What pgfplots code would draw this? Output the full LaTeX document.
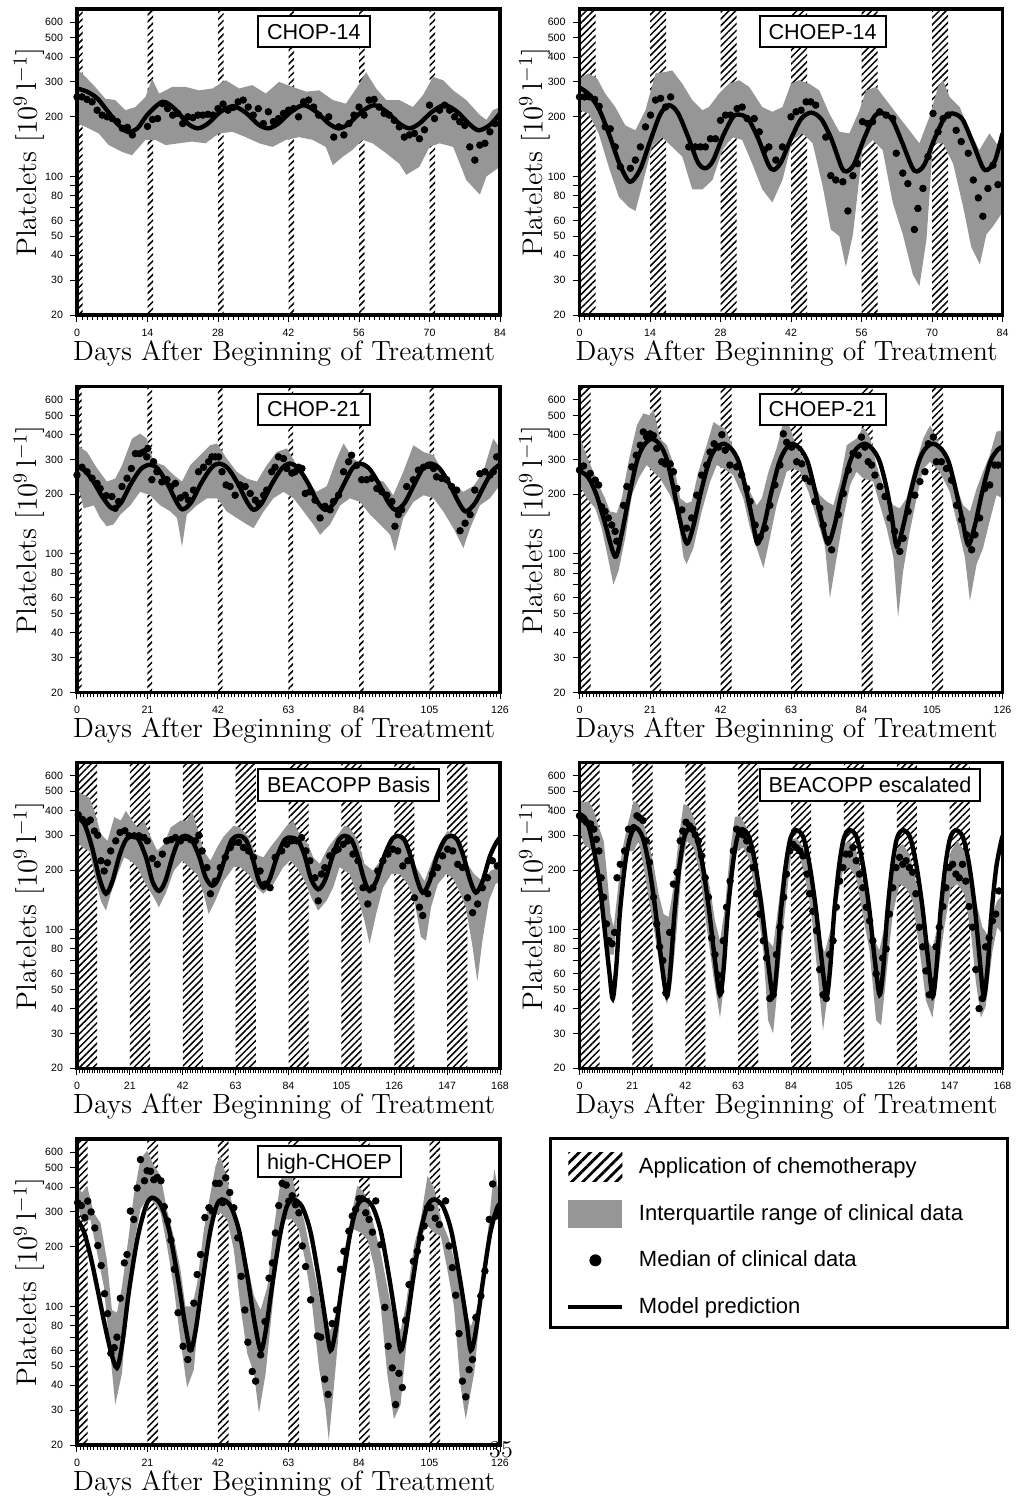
\documentclass[border=0pt]{standalone}
\usepackage{fontspec}
\usepackage{pgfplots}
\pgfplotsset{compat=1.18}
\usetikzlibrary{patterns.meta}
\newfontfamily\hv{Liberation Sans}
\definecolor{band}{RGB}{150,150,150}
\tikzset{
  chemo/.style={draw=none, pattern={Lines[angle=45,distance=2.4pt,line width=0.75pt]}, pattern color=black},
  titlebox/.style={draw=black, line width=1pt, fill=white, anchor=north west,
    font=\hv\fontsize{10.8}{12}\selectfont, inner xsep=4.5pt, inner ysep=4pt, text height=7.6pt, text depth=0pt},
}
\newcommand{\chemo}[2]{\addplot[chemo, forget plot] coordinates {(#1,20) (#2,20) (#2,700) (#1,700)} -- cycle;}
\pgfplotsset{
 panel/.style={
   scale only axis, width=211.5pt, height=153pt,
   ymin=20, ymax=700, xmin=0,
   ytick={20,30,40,50,60,70,80,90,100,200,300,400,500,600},
   yticklabels={20,30,40,50,60,,80,,100,200,300,400,500,600},
   yminorticks=false,
   axis on top,
   axis line style={line width=1.6pt},
   tick align=outside, xtick pos=left, ytick pos=left,
   major tick length=3.5pt, minor tick length=2.5pt,
   major tick style={black, line width=0.5pt},
   minor tick style={black, line width=0.4pt},
   tick label style={font=\hv\fontsize{5.3}{6}\selectfont},
   /pgf/number format/assume math mode=true,
   xlabel={Days After Beginning of Treatment},
   xlabel style={font=\fontsize{13.9}{15}\selectfont, at={(axis description cs:0.49,0)}, anchor=base, yshift=-22.5pt},
   ylabel={Platelets $[10^9\,\mathrm{l}^{-1}]$},
   ylabel style={font=\fontsize{14.2}{15}\selectfont, anchor=base},
   anchor=south west,
 },
 leftcol/.style={ylabel style={at={([xshift=-20pt,yshift=4.75pt]axis description cs:0,0.5)}}},
 rightcol/.style={ylabel style={at={([xshift=-18.5pt,yshift=4.75pt]axis description cs:0,0.5)}}},
 iqr/.style={fill=band, draw=none, forget plot},
 med/.style={only marks, mark=*, mark size=1.65pt, black, forget plot},
 modelcurve/.style={black, line width=2.2pt, smooth, forget plot},
}
\begin{document}
\begin{tikzpicture}
\path[use as bounding box] (0,0) rectangle (508.5pt,-750pt);

% ---------------- CHOP-14
\begin{semilogyaxis}[panel, leftcol, xmax=84, xtick={0,14,28,42,56,70,84}, minor x tick num=13, at={(38.5pt,-157.5pt)}]
\chemo{0}{1.1}\chemo{14}{15.1}\chemo{28}{29.1}\chemo{42}{43.1}\chemo{56}{57.1}\chemo{70}{71.1}
\addplot[iqr] coordinates {(0,350)(1.7,318)(3.6,283)(5.6,247)(7.6,243)(9.6,216)(11.6,224)(13.6,252)(14.9,312)(16.3,262)(17.6,272)(18.9,283)(21.6,283)(24.2,272)(26.9,278)(29.5,306)(32.2,278)(34.8,289)(37.5,262)(40.1,300)(42.8,283)(45.5,268)(48.1,272)(50.8,243)(53.4,233)(56.1,294)(57.4,336)(59.4,278)(61.4,243)(64,243)(66.7,224)(68.7,257)(70.7,318)(72.7,306)(74.7,272)(77.3,243)(80,204)(81.3,193)(82.6,216)(84,224)
(84,112)(81.3,100)(80,81)(77.3,96)(74.7,141)(72,147)(70,141)(68,112)(65.4,102)(64,116)(61.4,131)(58.7,147)(56.7,153)(54.7,136)(52.8,126)(50.8,114)(49.4,141)(46.8,153)(44.1,158)(41.5,153)(38.8,141)(36.2,147)(33.5,158)(30.9,168)(28.2,165)(25.5,147)(22.9,150)(20.2,147)(17.6,144)(15.6,153)(13.6,153)(10.9,128)(9,133)(6.3,144)(4.3,165)(1.7,178)(0,185)} -- cycle;
\addplot[med] coordinates {(0,252)(1,252)(2,245)(3,238)(4,216)(5,204)(6,200)(7,196)(8,189)(9,175)(10,177)(11,162)(14,179)(15,194)(16,196)(17,233)(18,220)(19,204)(20,208)(21,185)(22,200)(23,198)(24,204)(25,204)(26,206)(27,204)(28,220)(29,232)(30,216)(31,223)(32,238)(33,243)(34,224)(35,204)(36,220)(37,185)(38,212)(39,189)(40,196)(41,208)(42,216)(43,220)(44,200)(45,238)(46,243)(47,224)(48,204)(50,200)(51,158)(52,178)(53,162)(54,185)(55,204)(56,224)(57,204)(58,243)(59,245)(60,224)(61,208)(62,204)(63,192)(64,178)(65,158)(66,162)(67,165)(68,155)(69,172)(70,229)(71,196)(72,216)(73,229)(74,216)(75,200)(76,189)(77,181)(78,141)(79,121)(80,144)(81,147)(82,168)(83,185)};
\addplot[modelcurve] coordinates {(0,278)(2,268)(4,248)(6,215)(8,185)(10,168)(12,175)(14,205)(17,238)(19.5,218)(22,185)(24,175)(26,185)(28.5,212)(31,226)(33.5,210)(36,183)(38,175)(40,185)(42.5,212)(45,229)(47.5,212)(50,185)(52,175)(54,185)(56.5,212)(59,229)(61.5,212)(64,185)(66,175)(68,185)(70.5,212)(73,229)(75.5,212)(78,183)(79.8,171)(82,182)(84,208)};
\node[titlebox] at ([xshift=90pt,yshift=-3pt]rel axis cs:0,1) {CHOP-14\hspace{3.5pt}};
\end{semilogyaxis}

% ---------------- CHOEP-14
\begin{semilogyaxis}[panel, rightcol, xmax=84, xtick={0,14,28,42,56,70,84}, minor x tick num=13, at={(289.75pt,-157.5pt)}]
\chemo{0}{3.2}\chemo{14}{17.2}\chemo{28}{31.2}\chemo{42}{45.2}\chemo{56}{59.2}\chemo{70}{73.2}
\addplot[iqr] coordinates {(0,312)(1.8,331)(3.5,312)(5.1,262)(7.1,224)(9.1,181)(11.1,171)(13.1,216)(15.1,331)(17.1,337)(18.4,343)(20.4,294)(22.4,243)(24.4,216)(25.7,224)(27.7,262)(29.7,294)(31.7,306)(33.7,283)(36.3,224)(38.3,212)(40.3,224)(42,294)(43.6,306)(45.6,294)(47.6,272)(49.6,208)(51.6,168)(53.6,165)(55.6,216)(56.9,272)(58.9,283)(60.9,243)(62.9,208)(65.5,171)(67.5,147)(69.5,200)(71.2,283)(72.2,306)(73.5,252)(75.5,224)(77.4,171)(79.4,136)(81.4,165)(82.8,147)(84,141)
(84,66)(82.1,56)(80.8,51)(79.5,36)(77.8,44)(76.2,70)(74.2,116)(72.2,147)(70.2,147)(68.9,48)(67.5,28)(66.2,32)(64.2,51)(62.2,74)(60.2,136)(58.2,153)(56.2,136)(54.3,51)(52.9,35)(51.6,50)(49.9,54)(48.3,89)(46.3,147)(44.3,165)(42.3,153)(40.3,96)(38.3,74)(36.3,86)(34.3,116)(32.3,153)(30.3,158)(28.4,136)(26.4,96)(24.4,86)(22.4,86)(20.4,126)(18.4,141)(16.4,158)(14.4,141)(12.4,89)(11.1,67)(9.8,70)(7.8,79)(5.8,112)(3.8,165)(1.8,208)(0,216)} -- cycle;
\addplot[med] coordinates {(0,252)(1,252)(2,252)(3,245)(3.9,226)(5.1,178)(6.1,174)(7.1,141)(8.1,112)(10.1,110)(11.1,121)(12.1,141)(13.1,178)(14.1,204)(15.1,243)(16.1,248)(17.1,224)(18.1,252)(21.7,141)(23,141)(24,141)(25,141)(26,155)(27,155)(28,192)(29,204)(30,204)(31.3,220)(32.3,224)(33.3,196)(34.7,196)(35.7,168)(36.7,136)(37.6,141)(39,121)(40.3,141)(42,200)(43,212)(44,216)(45,238)(45.9,238)(46.9,229)(48.9,158)(49.9,101)(50.9,96)(52.3,94)(53.3,67)(54.3,101)(55.2,116)(56.2,189)(57.2,185)(58.2,189)(59.6,212)(60.9,204)(62.2,196)(62.9,131)(64.2,104)(65.2,92)(66.5,54)(67.2,69)(68.2,87)(69.2,126)(70.2,208)(71.2,168)(72.2,196)(73.2,204)(74.8,171)(75.8,150)(77.2,131)(78.2,96)(79.2,78)(80.1,63)(81.1,87)(82.1,114)(83.1,91)};
\addplot[modelcurve] coordinates {(0,281)(2,258)(4,215)(6,160)(8,115)(10,94)(12,108)(14,150)(16,205)(17.7,229)(19.5,210)(21.5,160)(23.5,118)(25,110)(26.5,120)(28.5,160)(30.5,200)(31.8,205)(33.5,195)(35.5,155)(37.5,115)(38.6,108)(40,118)(42,155)(44,195)(46,210)(48,195)(50,155)(52,112)(53,106)(54.5,115)(56.5,155)(58.5,200)(60,209)(62,195)(64,150)(66,112)(67,106)(68.5,115)(70.5,155)(72.5,198)(74,208)(76,195)(78,150)(80,112)(81,108)(82.5,120)(84,165)};
\node[titlebox] at ([xshift=89.5pt,yshift=-3pt]rel axis cs:0,1) {CHOEP-14\hspace{3.5pt}};
\end{semilogyaxis}

% ---------------- CHOP-21
\begin{semilogyaxis}[panel, leftcol, xmax=126, xtick={0,21,42,63,84,105,126}, minor x tick num=20, at={(38.5pt,-346.25pt)}]
\chemo{0}{1.4}\chemo{21}{22.4}\chemo{42}{43.4}\chemo{63}{64.4}\chemo{84}{85.4}\chemo{105}{106.4}
\addplot[iqr] coordinates {(0,354)(3,327)(6,270)(8.9,232)(11.4,240)(13.4,280)(16.4,382)(18.8,405)(20.8,382)(22.8,292)(25.8,280)(28.8,250)(31.3,232)(33.7,280)(36.7,315)(39.7,354)(41.7,361)(44.6,303)(47.6,260)(50.6,240)(53.6,232)(56.5,280)(59.5,327)(62.5,341)(65.5,280)(68.5,232)(71.4,206)(74.4,220)(77.4,303)(79.4,361)(82.3,303)(85.3,280)(88.3,240)(91.3,232)(94.2,198)(97.2,260)(100.2,354)(103.2,327)(106.2,315)(109.1,260)(112.1,220)(115.1,206)(118.1,220)(121,260)(124,382)(126,341)
(126,223)(123,191)(120,176)(117.1,135)(115.1,107)(112.1,135)(109.1,164)(106.2,191)(103.2,198)(100.2,183)(97.2,152)(94.7,103)(93.3,125)(90.3,141)(87.3,158)(84.3,183)(81.3,191)(78.4,176)(75.4,141)(72.4,125)(70.4,141)(67.5,164)(64.5,191)(61.5,206)(58.5,191)(55.6,164)(52.6,135)(50.6,141)(47.6,152)(44.6,164)(41.7,191)(38.7,191)(35.7,176)(32.7,158)(31.3,109)(29.8,152)(27.8,164)(24.8,176)(21.8,198)(18.8,206)(15.9,176)(12.9,158)(10.9,141)(8.9,138)(6.9,152)(5,176)(2,170)(0,232)} -- cycle;
\addplot[med] coordinates {(0,250)(1.5,274)(3,260)(4.5,241)(6,227)(6.9,214)(8.7,197)(10.4,195)(11.4,170)(12.4,184)(13.4,219)(14.9,241)(16.2,270)(17.4,321)(18.7,321)(19.8,327)(20.8,309)(21.1,341)(22.3,237)(22.8,292)(23.8,260)(25.3,231)(26.8,237)(28,219)(29.3,227)(30.8,192)(32.2,198)(33.2,187)(34.7,210)(36.2,260)(37.7,274)(39.2,292)(40.2,309)(41.2,309)(42.2,309)(43.2,260)(44.4,223)(45.6,219)(47.1,198)(48.6,223)(50.1,219)(51.6,202)(53.1,187)(54.1,180)(55.6,198)(56.5,210)(58,260)(59,274)(60,309)(61.5,303)(62.5,270)(64,256)(65,260)(66,274)(67,270)(68,202)(69.4,206)(70.9,187)(72.4,152)(73.9,174)(75.4,167)(76.4,184)(77.9,198)(79.4,260)(80.9,292)(81.8,315)(83.3,280)(84.8,237)(86.3,237)(87.8,241)(89.3,214)(90.8,206)(92.3,198)(93.8,184)(94.7,138)(95.7,158)(96.7,167)(98.2,219)(100.2,237)(101.7,265)(103.2,274)(104.7,280)(106.2,270)(107.1,245)(108.6,241)(110.1,237)(111.6,219)(113.1,210)(114.1,131)(115.6,143)(117.1,158)(118.5,210)(120,254)(121.5,260)(123,250)(124,260)(125,309)};
\addplot[modelcurve] coordinates {(0,277)(2.5,262)(5,230)(7.5,195)(10.4,170)(13,180)(16,225)(19,268)(21.7,282)(24,270)(27,225)(29.5,185)(31.4,168)(34,182)(37,228)(40,272)(42.3,286)(45,270)(48,225)(50.5,185)(52.6,167)(55,180)(58,225)(61,270)(63.4,286)(66,270)(69,225)(71.5,185)(73.9,167)(76.5,180)(79.5,225)(82,270)(84.3,286)(87,270)(90,225)(92.5,185)(94.8,167)(97.5,180)(100.5,225)(103,270)(105.3,286)(108,270)(111,225)(113.5,185)(115.7,164)(118.5,180)(121.5,225)(124,265)(126,283)};
\node[titlebox] at ([xshift=90pt,yshift=-3pt]rel axis cs:0,1) {CHOP-21\hspace{3.5pt}};
\end{semilogyaxis}

% ---------------- CHOEP-21
\begin{semilogyaxis}[panel, rightcol, xmax=126, xtick={0,21,42,63,84,105,126}, minor x tick num=20, at={(289.75pt,-346.25pt)}]
\chemo{0}{3.3}\chemo{21}{24.3}\chemo{42}{45.3}\chemo{63}{66.3}\chemo{84}{87.3}\chemo{105}{108.3}
\addplot[iqr] coordinates {(0,400)(1.7,327)(3.7,270)(5.7,223)(7.6,191)(9.1,164)(11.1,161)(12.6,191)(14.6,292)(17.1,446)(19,512)(21,500)(22,540)(24,382)(26,354)(28,285)(30,191)(31.9,180)(33.4,184)(35.4,260)(37.9,354)(39.9,463)(41.4,446)(43.4,429)(45.3,361)(47.8,260)(50.3,214)(52.8,176)(54.3,191)(56.3,260)(58.7,341)(60.7,463)(62.7,437)(64.7,341)(66.7,303)(69.1,241)(71.6,198)(73.6,184)(75.6,176)(77.6,232)(79.6,354)(82.5,382)(84.5,437)(86.5,389)(88.5,280)(91,206)(93.5,176)(95.4,170)(97.4,191)(99.4,260)(102.4,382)(104.4,446)(106.3,389)(108.3,320)(111.3,241)(114.3,176)(116.3,164)(118.3,214)(120.2,260)(122.2,315)(124.2,414)(126,421)
(126,191)(124.2,198)(122.2,147)(120.2,107)(118.3,89)(116.3,58)(114.8,96)(112.8,135)(110.3,206)(107.3,260)(104.4,292)(102.4,270)(100.4,191)(98.4,130)(96.4,82)(94.9,48)(93.5,96)(91.5,135)(89.5,176)(87.5,232)(84.5,241)(82.5,260)(80.6,223)(78.6,152)(76.6,96)(74.6,60)(73.1,110)(70.6,152)(68.2,206)(65.7,260)(63.7,270)(61.7,260)(58.7,176)(56.7,120)(54.8,85)(52.8,107)(50.8,135)(48.8,191)(45.8,250)(42.9,270)(40.9,281)(38.9,232)(36.4,164)(33.9,107)(31.9,89)(31,96)(29,164)(27,198)(24,241)(22,260)(20,281)(17.6,241)(15.6,198)(13.6,120)(11.6,82)(10.1,70)(8.1,103)(6.6,135)(4.7,170)(2.2,191)(0,223)} -- cycle;
\addplot[med] coordinates {(0,265)(1.2,278)(3.2,255)(4.7,236)(5.7,223)(6.6,173)(7.6,164)(8.6,152)(9.6,140)(10.6,130)(11.1,116)(13.1,176)(14.1,219)(15.6,275)(16.9,315)(18.1,354)(19,413)(20,389)(21,404)(22,396)(23,341)(24.5,292)(25.5,285)(27,285)(28,260)(29,214)(30.5,167)(31.9,135)(33.4,152)(34.9,198)(36.4,250)(37.9,281)(38.9,327)(40.1,360)(41.4,346)(42.4,400)(43.4,334)(44.8,281)(46.8,275)(48.3,250)(49.8,214)(50.8,184)(52.3,140)(53.8,122)(55.3,135)(56.7,176)(58.2,223)(59.7,281)(60.7,404)(61.7,366)(63.2,346)(64.7,292)(66.2,285)(67.2,241)(68.7,232)(70.1,184)(71.6,170)(72.6,140)(74.1,118)(75.1,105)(77.1,158)(78.6,202)(80.1,265)(81.5,322)(83,315)(84,389)(85,346)(86,292)(87,281)(88,250)(89.5,219)(91,195)(92.5,152)(93.9,130)(95.4,103)(96.4,120)(97.9,164)(99.9,198)(101.4,232)(102.9,260)(103.9,360)(105.4,389)(106.3,292)(107.8,292)(109.3,270)(110.8,236)(112.3,176)(113.8,149)(115.3,125)(116.8,105)(117.8,125)(119.2,152)(120.7,214)(122.2,223)(123.7,281)(124.7,281)};
\addplot[modelcurve] coordinates {(0,262)(2.5,245)(5,200)(7.5,145)(10.6,97)(12.5,125)(14.5,185)(17,290)(19,350)(21.5,381)(24,355)(26,300)(28,214)(30,146)(32,113)(34,140)(36,200)(38.5,290)(40.5,340)(43,360)(45.5,335)(47.5,290)(49.5,214)(51.5,150)(53,113)(55,140)(57,200)(59.5,290)(61.5,340)(63.5,360)(66,335)(68,290)(70,214)(72,150)(74,113)(76,140)(78,200)(80.5,290)(82.5,340)(85,360)(87.5,335)(89.5,290)(91.5,214)(93,155)(94.5,109)(96.5,140)(98.5,200)(101,290)(103,340)(105.4,360)(108,335)(110,290)(112,214)(114,150)(115.8,111)(117.8,140)(119.8,200)(122.3,290)(124.5,335)(126,347)};
\node[titlebox] at ([xshift=89.5pt,yshift=-3pt]rel axis cs:0,1) {CHOEP-21\hspace{3.5pt}};
\end{semilogyaxis}

% ---------------- BEACOPP Basis
\begin{semilogyaxis}[panel, leftcol, xmax=168, xtick={0,21,42,63,84,105,126,147,168}, minor x tick num=20, at={(38.5pt,-534.15pt)}]
\chemo{0}{8}\chemo{21}{29}\chemo{42}{50}\chemo{63}{71}\chemo{84}{92}\chemo{105}{113}\chemo{126}{134}\chemo{147}{155}
\addplot[iqr] coordinates {(0,502)(2.2,483)(4.9,464)(6.9,398)(9.5,304)(12.1,281)(14.8,370)(17.4,356)(19.4,398)(22,356)(24,328)(26.6,356)(29.2,295)(31.9,250)(34.5,270)(37.2,328)(41.1,356)(43.7,356)(45.7,398)(47.7,328)(50.3,250)(53,223)(55.6,260)(58.2,295)(62.2,335)(64.8,328)(68.1,295)(70.8,241)(74,232)(76.7,260)(80.6,301)(83.3,335)(85.9,356)(88.5,301)(91.8,270)(93.8,232)(96.4,215)(99.7,260)(103,295)(106.3,335)(108.3,328)(111.6,281)(114.2,215)(117.5,199)(121.5,232)(124.1,281)(126.7,301)(129.4,301)(132,250)(134.7,207)(138,176)(140.6,215)(143.9,270)(147.2,316)(149.8,301)(152.5,270)(155.1,215)(157.7,191)(161,176)(164.3,199)(168,207)
(168,176)(166.2,170)(163.6,140)(161,88)(159,55)(157.1,82)(154.4,130)(151.8,157)(149.2,183)(146.6,191)(143.3,170)(140.6,130)(138.6,88)(136.6,92)(134,140)(131.4,170)(128.1,191)(124.8,191)(121.5,163)(118.8,120)(116.2,85)(114.2,111)(111.6,145)(108.3,191)(104.3,207)(101.7,163)(99.1,140)(95.8,125)(93.1,145)(90.5,176)(87.2,207)(84.6,223)(81.9,207)(78,170)(74,152)(71.4,163)(68.1,191)(64.8,207)(62.2,207)(58.2,176)(54.9,140)(52.3,120)(50.3,152)(47.7,191)(44.4,207)(41.8,223)(38.5,199)(35.2,152)(32.5,130)(30.6,145)(26.6,176)(24,207)(21.3,223)(18.7,232)(16.1,191)(13.4,152)(11.5,125)(9.5,140)(7.5,176)(4.9,250)(2.2,260)(0,281)} -- cycle;
\addplot[med] coordinates {(0.5,381)(2.2,360)(4,349)(5.3,358)(6.9,315)(8.2,300)(9.5,223)(10.8,198)(12.1,218)(13.4,250)(15.4,281)(17.1,310)(19,316)(20.7,298)(22.7,298)(24.6,298)(26.6,292)(27.9,281)(29.9,229)(31.9,214)(33.9,241)(35.6,281)(37.4,285)(39.1,292)(41.1,281)(43.1,292)(45.1,285)(47,281)(48.4,300)(49.7,250)(51.6,206)(53,152)(54.9,176)(56.9,206)(58.9,232)(60.9,260)(62.2,276)(64.2,276)(66.1,260)(68.1,250)(70.1,232)(72.7,198)(74.7,170)(76.7,163)(78.7,232)(81.3,250)(83.3,270)(85.2,281)(87.2,281)(89.2,292)(90.9,250)(92.5,223)(94.5,183)(95.8,140)(97.1,191)(98.4,206)(100.4,236)(102.4,250)(103.7,255)(105.7,270)(107.6,281)(109.6,241)(111.6,223)(113.6,163)(115.5,135)(117.5,163)(119.5,198)(121.5,223)(123.5,241)(125.4,255)(127.4,250)(129.4,210)(131.4,223)(134,145)(136,130)(137.3,118)(139.3,152)(141.2,191)(143.2,206)(145.2,236)(147.2,255)(149.2,250)(151.2,214)(153.1,206)(155.1,145)(157.1,122)(159.1,135)(161,163)(163,183)(165,223)(166.9,210)};
\addplot[modelcurve] coordinates {(0,376)(3,340)(6,260)(9,180)(11.5,152)(14,175)(17,240)(19.5,285)(22,298)(24.5,285)(27.5,230)(30,175)(32.5,157)(35,175)(38,235)(40.5,285)(43,298)(45.5,285)(48.5,235)(51,185)(53.6,167)(56,180)(59,235)(61.5,285)(64.2,298)(67,285)(69.5,235)(72,180)(74,163)(76.5,180)(79.5,235)(82.5,285)(85.2,292)(88,280)(90.5,235)(93,180)(95.8,160)(98.5,178)(101.5,235)(104,285)(106.3,298)(109,285)(111.5,235)(114,180)(116.2,157)(119,178)(122,235)(125,285)(127.4,298)(130,285)(132.5,235)(135,180)(137.3,154)(140,175)(143,235)(146,285)(148.5,298)(151,285)(153.5,235)(156,180)(158.4,154)(161,175)(164,235)(166.5,275)(168,292)};
\node[titlebox] at ([xshift=90pt,yshift=-3pt]rel axis cs:0,1) {BEACOPP Basis\hspace{3.5pt}};
\end{semilogyaxis}

% ---------------- BEACOPP escalated
\begin{semilogyaxis}[panel, rightcol, xmax=168, xtick={0,21,42,63,84,105,126,147,168}, minor x tick num=20, at={(289.75pt,-534.15pt)}]
\chemo{0}{8}\chemo{21}{29}\chemo{42}{50}\chemo{63}{71}\chemo{84}{92}\chemo{105}{113}\chemo{126}{134}\chemo{147}{155}
\addplot[iqr] coordinates {(0,455)(1.7,438)(3.7,446)(5.7,398)(7.7,328)(9.6,281)(10.9,191)(12.3,120)(13.6,103)(14.9,146)(16.9,250)(18.9,328)(21.5,446)(23.5,430)(25.5,339)(27.4,281)(29.4,214)(31.4,152)(33.4,120)(35.4,116)(37.3,163)(39.3,281)(41.3,430)(43.3,422)(45.3,370)(47.9,281)(49.9,206)(51.8,163)(53.8,111)(55.8,88)(57.8,130)(59.8,250)(61.7,370)(63.7,377)(66.4,328)(69,250)(71,191)(73,140)(74.9,88)(76.9,82)(78.9,130)(80.9,206)(83.5,281)(86.1,292)(88.8,260)(91.4,191)(93.4,130)(95.4,88)(97.4,77)(100,103)(102.6,191)(105.3,270)(107.3,281)(109.9,250)(112.5,176)(115.2,120)(117.2,88)(119.1,79)(121.1,103)(123.7,176)(126.4,260)(128.4,270)(131,241)(133.6,176)(136.3,120)(138.3,88)(140.2,81)(142.2,103)(144.9,163)(147.5,250)(150.1,281)(152.8,250)(155.4,183)(157.4,140)(160,103)(161.9,95)(163.9,120)(165.9,140)(168,150)
(168,95)(165.9,103)(164,78)(161.3,41)(159.4,36)(157.4,55)(155.4,99)(152.8,152)(150.1,170)(147.5,163)(144.9,103)(142.2,58)(140.2,36)(137.6,44)(134.9,82)(132.3,140)(129.7,163)(127.1,170)(124.4,120)(121.8,58)(119.8,33)(117.8,35)(115.2,78)(112.5,120)(109.9,183)(107.3,206)(104.6,199)(102,130)(99.3,55)(96.7,31)(94.7,58)(92.1,120)(89.4,191)(86.8,250)(84.2,250)(81.5,120)(78.9,55)(76.9,30)(74.9,35)(73,78)(70.3,140)(67.7,223)(65,260)(62.4,250)(59.8,130)(57.8,58)(55.8,36)(53.2,58)(50.5,103)(47.9,191)(45.3,260)(42.6,281)(40.6,206)(38.7,103)(36.7,55)(34.7,42)(32.7,55)(30.7,82)(28.1,130)(25.5,206)(23.5,281)(21.5,250)(18.9,250)(16.9,176)(14.9,116)(13.6,75)(11.6,75)(9.6,103)(7.7,176)(5.7,250)(3.7,260)(1.7,270)(0,328)} -- cycle;
\addplot[med] coordinates {(0,376)(1.5,360)(2.8,348)(4.4,342)(5.7,322)(6.7,286)(7.7,250)(8.6,183)(9.6,146)(10.7,107)(11.7,88)(12.9,85)(13.9,97)(14.9,183)(16.2,214)(17.9,250)(19.5,322)(21.5,328)(22.8,376)(23.9,367)(25.2,356)(26.5,281)(27.8,219)(29.4,146)(30.7,107)(31.8,82)(33.1,70)(34.3,48)(35.8,97)(37.3,170)(38.7,195)(40,281)(41,315)(42.3,349)(43.7,335)(45,322)(46,301)(47.2,281)(48.5,236)(49.9,183)(51.2,146)(52.5,91)(53.8,75)(55.1,59)(56.1,49)(57.1,88)(58.4,130)(59.8,176)(61.1,250)(62.4,322)(63.7,310)(65,301)(66.4,281)(67.7,255)(69,206)(70.3,152)(71.6,120)(73,88)(74.3,72)(75.6,45)(76.9,47)(78.2,75)(79.6,103)(81.1,146)(82.2,191)(83.5,250)(84.8,270)(86.1,260)(87.5,250)(88.8,236)(90.4,191)(91.4,152)(92.7,124)(94.1,99)(95.4,63)(96.7,47)(98,45)(99.3,75)(100.7,88)(102,130)(103.3,176)(104.6,206)(105.9,241)(107.3,241)(108.6,260)(109.9,223)(111.2,191)(112.5,163)(113.9,130)(115.2,111)(116.5,88)(117.8,60)(119.1,51)(120.4,72)(121.8,80)(123.1,120)(124.4,163)(125.7,206)(127.1,232)(128.4,214)(129.7,223)(131,206)(132.3,195)(133.6,152)(135,103)(136.3,82)(137.6,62)(138.9,47)(140.2,55)(141.6,82)(142.9,103)(144.3,131)(145.5,163)(146.8,206)(148.2,214)(149.5,191)(150.8,183)(152.1,214)(153.4,176)(154.7,131)(156.1,103)(157.4,63)(158.7,40)(160,45)(161.3,82)(162.7,91)(164,111)(165.3,120)(166.6,157)};
\addplot[modelcurve] coordinates {(0,383)(2,370)(4,320)(6,240)(8,170)(10,100)(11.8,62)(13.2,45)(14.6,65)(16,120)(18,210)(20,290)(22.2,328)(25,295)(27.5,215)(30,130)(32.5,70)(34.7,46)(36.2,65)(37.7,120)(39.7,210)(41.5,290)(43.5,322)(46.3,295)(48.8,215)(51.3,130)(53.8,70)(55.8,47)(57.3,65)(58.8,120)(60.8,210)(62.6,290)(64.5,322)(67.3,295)(69.8,215)(72.3,130)(74.8,70)(76.9,46)(78.4,65)(79.9,120)(81.9,210)(83.8,290)(86,318)(88.8,295)(91.3,215)(93.8,130)(96.2,70)(98.1,46)(99.6,65)(101.1,120)(103.1,210)(105,290)(107.3,318)(110,295)(112.5,215)(115,130)(117.3,70)(119.2,47)(120.7,65)(122.2,120)(124.2,210)(126.1,290)(128.4,318)(131.2,295)(133.7,215)(136.2,130)(138.5,70)(140.3,46)(141.8,65)(143.3,120)(145.3,210)(147.2,290)(149.4,318)(152.2,295)(154.7,215)(157,130)(159,70)(160.6,46)(162.1,65)(163.6,120)(165.6,210)(168,298)};
\node[titlebox] at ([xshift=89.5pt,yshift=-3pt]rel axis cs:0,1) {BEACOPP escalated\hspace{3.5pt}};
\end{semilogyaxis}

% ---------------- high-CHOEP
\begin{semilogyaxis}[panel, leftcol, xmax=126, xtick={0,21,42,63,84,105,126}, minor x tick num=20, at={(38.5pt,-722.5pt)},
  legend style={at={(axis description cs:1.156,0.9856)}, anchor=north west, draw=none, fill=none,
    inner sep=0pt, row sep=0pt, column sep=0pt, font=\hv\fontsize{11}{13}\selectfont, nodes={inner sep=0pt}},
  legend cell align=left]
\addlegendimage{legend image code/.code={\path[draw=none, pattern={Lines[angle=45,distance=3.9pt,line width=1.4pt]}] (0pt,-7.1pt) rectangle (27pt,7.1pt); \path[draw=none,fill=none] (0pt,-11.65pt) rectangle (35.3pt,11.65pt);}}
\addlegendentry{Application of chemotherapy}
\addlegendimage{legend image code/.code={\path[draw=none, fill=band] (0pt,-7.1pt) rectangle (27pt,7.1pt); \path[draw=none,fill=none] (0pt,-11.65pt) rectangle (35.3pt,11.65pt);}}
\addlegendentry{Interquartile range of clinical data}
\addlegendimage{legend image code/.code={\path[draw=none, fill=black] (13.5pt,0pt) circle (3pt); \path[draw=none,fill=none] (0pt,-11.65pt) rectangle (35.3pt,11.65pt);}}
\addlegendentry{Median of clinical data}
\addlegendimage{legend image code/.code={\draw[black, line width=2pt] (0pt,0pt) -- (27pt,0pt); \path[draw=none,fill=none] (0pt,-11.65pt) rectangle (35.3pt,11.65pt);}}
\addlegendentry{Model prediction}
\chemo{0}{3.2}\chemo{21}{24.2}\chemo{42}{45.2}\chemo{63}{66.2}\chemo{84}{87.2}\chemo{105}{108.2}
\addplot[iqr] coordinates {(0,406)(1.5,376)(3,406)(5,297)(7,264)(8.9,172)(10.4,96)(11.9,93)(13.4,126)(15.4,226)(16.9,361)(18.9,554)(20.9,611)(22.9,514)(24.9,456)(26.8,307)(28.8,226)(30.8,154)(32.3,100)(34.3,100)(35.8,131)(37.8,245)(39.8,376)(41.3,514)(42.7,577)(44.7,440)(46.7,297)(48.7,245)(50.7,166)(52.7,113)(54.7,96)(56.7,126)(58.6,245)(60.6,423)(62.1,577)(63.6,495)(65.6,347)(67.6,275)(69.6,186)(71.6,126)(73.6,82)(75.5,76)(77.5,96)(79.5,186)(81.5,275)(83.5,406)(85.5,376)(87.5,297)(90.5,186)(92.4,126)(94.4,85)(96.4,76)(97.9,100)(100.4,203)(102.4,275)(104.4,456)(106.4,395)(108.4,275)(110.8,218)(112.8,160)(114.8,108)(117.3,79)(119.3,100)(121.3,160)(122.8,275)(124.3,495)(126,347)
(126,275)(124.3,275)(122.3,172)(120.3,100)(118.3,46)(115.8,27)(114.3,39)(112.3,100)(110.3,154)(108.4,226)(106.4,236)(104.4,255)(102.4,226)(100.4,154)(98.4,73)(96.4,32)(94.4,27)(92.4,46)(90.5,100)(88.5,160)(86.5,218)(84.5,236)(82.5,245)(80.5,203)(78.5,93)(76.5,39)(75,21)(74.1,30)(72.1,49)(70.1,100)(68.1,166)(66.1,245)(64.1,275)(62.1,275)(60.1,203)(58.2,100)(56.2,46)(54.2,29)(52.7,46)(50.7,58)(48.7,100)(46.7,194)(44.7,275)(42.7,297)(40.8,286)(38.8,203)(36.8,117)(34.8,48)(32.8,39)(30.8,68)(28.8,126)(26.8,203)(24.9,297)(22.9,336)(20.9,350)(18.9,310)(16.9,203)(14.9,100)(13.4,46)(11.4,32)(9.9,58)(8,126)(6,186)(4,275)(2,264)(0,322)} -- cycle;
\addplot[med] coordinates {(0.2,334)(1.3,323)(2.3,281)(3.2,340)(4.2,300)(5.3,249)(6.2,203)(7.2,161)(8.2,116)(9.1,92)(10.1,58)(11.1,62)(11.9,70)(12.9,110)(14.1,166)(14.9,183)(15.9,303)(16.9,275)(17.9,396)(18.9,551)(20.1,431)(20.9,484)(21.9,481)(22.9,436)(23.9,448)(25,431)(26,319)(27,270)(28,216)(29,154)(30.1,93)(31.6,63)(33,54)(33.8,61)(34.8,104)(35.8,145)(36.8,183)(38.1,281)(39.3,315)(40.3,303)(41.3,418)(42.4,418)(43.4,334)(44.3,446)(45.5,376)(46.7,315)(47.9,222)(48.9,142)(50,96)(50.9,66)(52.2,47)(53.2,42)(54.7,57)(56,84)(57.2,139)(58.2,166)(59.1,235)(60.1,323)(61.1,418)(62.3,410)(63.1,340)(64.1,362)(65.1,326)(66.1,297)(67.1,202)(68.1,159)(69.6,108)(71.6,71)(72.6,70)(73.8,43)(74.8,36)(76,82)(77.3,96)(78.5,154)(79.5,190)(81,240)(82,286)(83,309)(84,350)(85,350)(86,297)(87,275)(88,237)(89,341)(90.5,205)(91.7,99)(92.7,63)(93.9,49)(94.9,32)(95.9,46)(96.9,39)(97.9,85)(98.9,129)(100.2,169)(101.4,190)(102.4,222)(103.4,255)(104.4,315)(105.4,315)(106.7,279)(107.9,259)(109.8,341)(110.8,202)(111.8,157)(112.8,114)(113.8,73)(114.8,42)(115.8,35)(116.8,48)(117.8,54)(118.8,88)(120.3,113)(121.5,151)(122.8,275)(123.8,415)(124.8,286)};
\addplot[modelcurve] coordinates {(0,275)(2,240)(4,180)(6,125)(8,85)(10,60)(11.9,49)(13.5,65)(15.5,120)(18,220)(20.5,320)(22.4,354)(25,325)(27.5,240)(30,140)(32,85)(33.8,61)(35.3,75)(37.3,130)(39.5,230)(41.5,320)(43.2,347)(45.8,320)(48.3,240)(50.8,140)(52.8,85)(54.7,60)(56.2,75)(58.2,130)(60.5,230)(62.5,320)(64.4,347)(67,320)(69.5,240)(72,140)(74,85)(75.5,60)(77,75)(79,130)(81.3,230)(83.4,320)(85.5,347)(88,320)(90.5,240)(93,140)(95,85)(96.4,60)(97.9,75)(99.9,130)(102.2,230)(104.3,320)(106.4,347)(109,320)(111.5,240)(114,140)(116,85)(117.3,60)(118.8,75)(120.8,130)(123,230)(125,310)(126,330)};
\node[titlebox] at ([xshift=90pt,yshift=-3pt]rel axis cs:0,1) {high-CHOEP\hspace{3.5pt}};
\end{semilogyaxis}

\draw[line width=1.5pt] (275pt,-569pt) rectangle (503.5pt,-663.5pt);
\node[font=\fontsize{12}{14}\selectfont] at (250.5pt,-725pt) {35};
\end{tikzpicture}
\end{document}
